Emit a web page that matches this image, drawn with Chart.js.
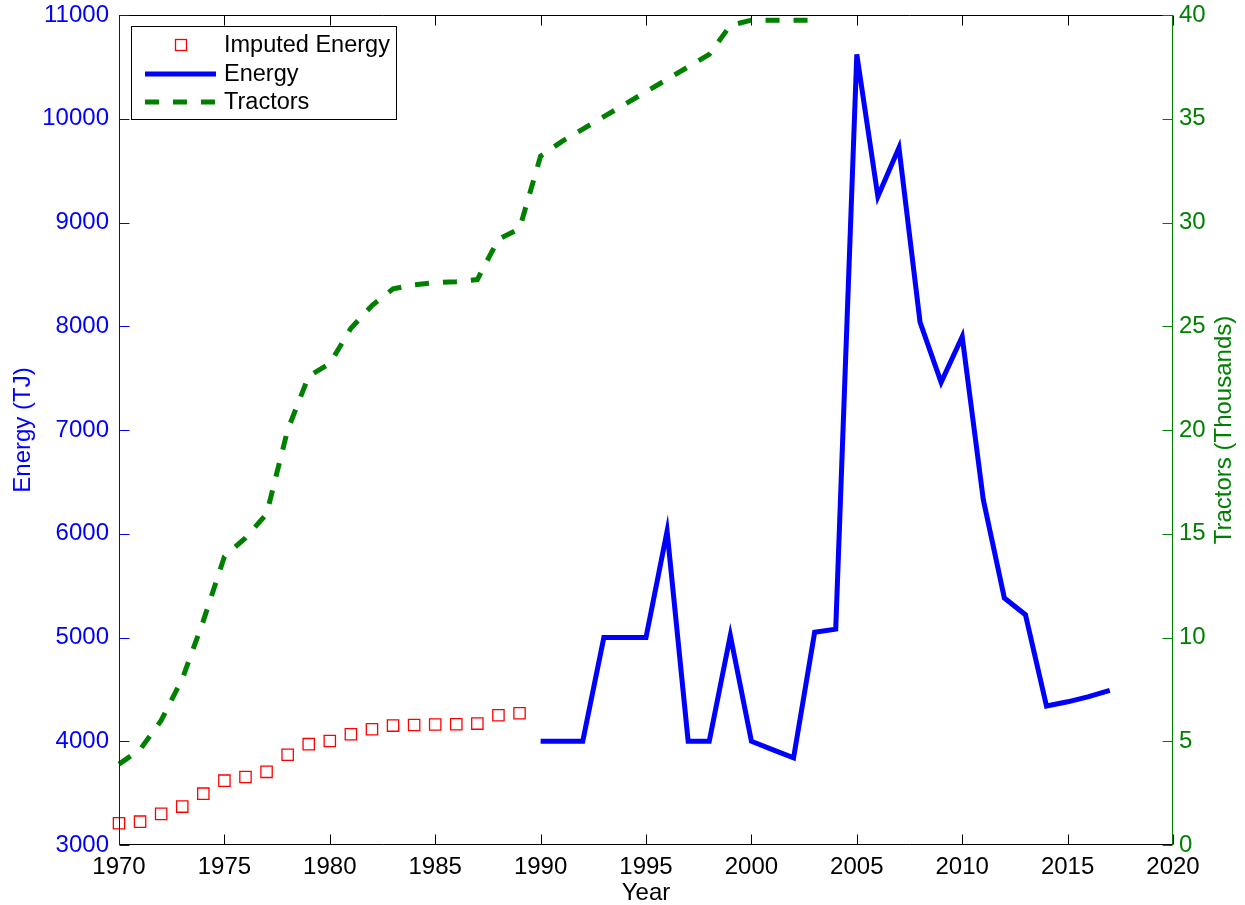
<!DOCTYPE html>
<html>
<head>
<meta charset="utf-8">
<title>Energy and Tractors</title>
<script src="https://cdn.jsdelivr.net/npm/chart.js@4/dist/chart.umd.min.js"></script>
<style>
    html, body { margin: 0; padding: 0; background: #fff; }
    #chartBox { width: 1245px; height: 905px; }
</style>
</head>
<body>
<div id="chartBox"><canvas id="myChart" width="1245" height="905"></canvas></div>
<script>
// energy imputed before records start (TJ)
const imputedYears = [1970, 1971, 1972, 1973, 1974, 1975, 1976, 1977, 1978, 1979,
                      1980, 1981, 1982, 1983, 1984, 1985, 1986, 1987, 1988, 1989];
const imputedEnergy = [3210, 3225, 3300, 3370, 3495, 3620, 3655, 3705, 3870, 3972,
                       4003, 4067, 4116, 4151, 4157, 4161, 4164, 4170, 4251, 4270];

// recorded energy (TJ)
const energyYears = [1990, 1991, 1992, 1993, 1994, 1995, 1996, 1997, 1998, 1999,
                     2000, 2001, 2002, 2003, 2004, 2005, 2006, 2007, 2008, 2009,
                     2010, 2011, 2012, 2013, 2014, 2015, 2016, 2017];
const energy = [4000, 4000, 4000, 5000, 5000, 5000, 6025, 4000, 4000, 5020,
                4000, 3920, 3840, 5050, 5080, 10620, 9250, 9720, 8040, 7460,
                7900, 6330, 5380, 5220, 4340, 4380, 4430, 4490];

// tractors in use (thousands)
const tractorYears = [1970, 1971, 1972, 1973, 1974, 1975, 1976, 1977, 1978, 1979,
                      1980, 1981, 1982, 1983, 1984, 1985, 1986, 1987, 1988, 1989,
                      1990, 1991, 1992, 1993, 1994, 1995, 1996, 1997, 1998, 1999,
                      2000, 2001, 2002, 2003];
const tractors = [3.9, 4.6, 6.0, 8.0, 10.8, 13.9, 14.8, 15.95, 20.0, 22.6,
                  23.2, 24.9, 26.0, 26.8, 27.0, 27.1, 27.15, 27.25, 29.2, 29.7,
                  33.2, 33.9, 34.5, 35.1, 35.7, 36.3, 36.9, 37.5, 38.1, 39.5,
                  39.75, 39.75, 39.75, 39.75];

// tick labels
const yearTicks = [1970, 1975, 1980, 1985, 1990, 1995, 2000, 2005, 2010, 2015, 2020];
const energyTicks = [3000, 4000, 5000, 6000, 7000, 8000, 9000, 10000, 11000];
const tractorTicks = [0, 5, 10, 15, 20, 25, 30, 35, 40];

const FONT = "'Liberation Sans', Arial, Helvetica, sans-serif";
const BLUE = '#0000ff';
const GREEN = '#008000';
const RED = '#ff0000';

function points(xs, ys) {
    return xs.map((x, i) => ({ x: x, y: ys[i] }));
}

function fixedTicks(list) {
    return (scale) => { scale.ticks = list.map(v => ({ value: v })); };
}

// fixed box sizes, labels are allowed to hang over the plot edges
function fitWidth(w) {
    return (s) => { s.width = w; s.paddingTop = 0; s.paddingBottom = 0; };
}
function fitHeight(h) {
    return (s) => { s.height = h; s.paddingLeft = 0; s.paddingRight = 0; };
}

// box, inward tick marks, legend and right hand title
const axesFrame = {
    id: 'axesFrame',
    afterDraw(chart) {
        const ctx = chart.ctx;
        const a = chart.chartArea;
        const sx = chart.scales.x, yl = chart.scales.yEnergy, yr = chart.scales.yTractors;
        const L = Math.round(a.left) + 0.5, R = Math.round(a.right) - 0.5;
        const T = Math.round(a.top) + 0.5, B = Math.round(a.bottom) - 0.5;
        const tick = 10;

        ctx.save();
        ctx.lineWidth = 1;
        ctx.setLineDash([]);

        // top and bottom
        ctx.strokeStyle = '#000';
        ctx.beginPath();
        ctx.moveTo(L, T); ctx.lineTo(R, T);
        ctx.moveTo(L, B); ctx.lineTo(R, B);
        sx.ticks.forEach(t => {
            const px = Math.round(sx.getPixelForValue(t.value)) + 0.5;
            ctx.moveTo(px, B); ctx.lineTo(px, B - tick);
            ctx.moveTo(px, T); ctx.lineTo(px, T + tick);
        });
        ctx.stroke();

        // left axis
        ctx.strokeStyle = BLUE;
        ctx.beginPath();
        ctx.moveTo(L, T - 0.5); ctx.lineTo(L, B + 0.5);
        yl.ticks.forEach(t => {
            const py = Math.round(yl.getPixelForValue(t.value)) + 0.5;
            ctx.moveTo(L, py); ctx.lineTo(L + tick, py);
        });
        ctx.stroke();

        // right axis
        ctx.strokeStyle = GREEN;
        ctx.beginPath();
        ctx.moveTo(R, T - 0.5); ctx.lineTo(R, B + 0.5);
        yr.ticks.forEach(t => {
            const py = Math.round(yr.getPixelForValue(t.value)) + 0.5;
            ctx.moveTo(R, py); ctx.lineTo(R - tick, py);
        });
        ctx.stroke();

        // right title, reading upwards
        ctx.fillStyle = GREEN;
        ctx.font = '24px ' + FONT;
        ctx.textAlign = 'center';
        ctx.textBaseline = 'middle';
        ctx.translate(1224, (a.top + a.bottom) / 2);
        ctx.rotate(-Math.PI / 2);
        ctx.fillText('Tractors (Thousands)', 0, 0);
        ctx.setTransform(1, 0, 0, 1, 0, 0);

        // legend
        const lx = 131.5, ly = 26.5, lw = 265, lh = 93;
        ctx.fillStyle = '#fff';
        ctx.fillRect(lx, ly, lw, lh);
        ctx.strokeStyle = '#000';
        ctx.strokeRect(lx, ly, lw, lh);

        const ds = chart.data.datasets;
        const rows = [45, 74, 102];
        const x0 = 145, x1 = 216;

        ctx.strokeStyle = ds[0].pointBorderColor;
        ctx.lineWidth = ds[0].pointBorderWidth;
        ctx.strokeRect(175.5, rows[0] - 5.5, 11, 11);

        ctx.lineWidth = ds[1].borderWidth;
        ctx.strokeStyle = ds[1].borderColor;
        ctx.beginPath();
        ctx.moveTo(x0, rows[1]); ctx.lineTo(x1, rows[1]);
        ctx.stroke();

        ctx.strokeStyle = ds[2].borderColor;
        ctx.setLineDash(ds[2].borderDash);
        ctx.beginPath();
        ctx.moveTo(x0, rows[2]); ctx.lineTo(x1, rows[2]);
        ctx.stroke();
        ctx.setLineDash([]);

        ctx.fillStyle = '#000';
        ctx.font = '23.5px ' + FONT;
        ctx.textAlign = 'left';
        ctx.textBaseline = 'middle';
        ds.forEach((d, i) => ctx.fillText(d.label, 224, rows[i] + 1));
        ctx.restore();
    }
};

const ctx = document.getElementById('myChart').getContext('2d');
const chart = new Chart(ctx, {
    type: 'line',
    data: {
        datasets: [{
            label: 'Imputed Energy',
            data: points(imputedYears, imputedEnergy),
            yAxisID: 'yEnergy',
            showLine: false,
            pointStyle: 'rect',
            pointRadius: 8,
            pointBorderWidth: 1.3,
            pointBorderColor: RED,
            pointBackgroundColor: 'rgba(0,0,0,0)',
            clip: false
        }, {
            label: 'Energy',
            data: points(energyYears, energy),
            yAxisID: 'yEnergy',
            borderColor: BLUE,
            borderWidth: 5,
            pointRadius: 0,
            tension: 0,
            clip: false
        }, {
            label: 'Tractors',
            data: points(tractorYears, tractors),
            yAxisID: 'yTractors',
            borderColor: GREEN,
            borderWidth: 5,
            borderDash: [14, 14],
            pointRadius: 0,
            tension: 0,
            clip: false
        }]
    },
    options: {
        responsive: false,
        animation: false,
        layout: { padding: { top: 15, left: 0, right: 0, bottom: 0 } },
        plugins: {
            legend: { display: false },
            tooltip: { enabled: false }
        },
        scales: {
            x: {
                type: 'linear',
                position: 'bottom',
                min: 1970,
                max: 2020,
                grid: { display: false, drawTicks: false },
                border: { display: false },
                afterBuildTicks: fixedTicks(yearTicks),
                afterFit: fitHeight(60),
                ticks: {
                    color: '#000',
                    font: { family: FONT, size: 24 },
                    padding: 8,
                    maxRotation: 0,
                    autoSkip: false,
                    callback: (v) => String(v)
                },
                title: {
                    display: true,
                    text: 'Year',
                    color: '#000',
                    font: { family: FONT, size: 24, lineHeight: 1 },
                    padding: { top: 0, bottom: 0 }
                }
            },
            yEnergy: {
                type: 'linear',
                position: 'left',
                min: 3000,
                max: 11000,
                grid: { display: false, drawTicks: false },
                border: { display: false },
                afterBuildTicks: fixedTicks(energyTicks),
                afterFit: fitWidth(119),
                ticks: {
                    color: BLUE,
                    font: { family: FONT, size: 24 },
                    padding: 10,
                    callback: (v) => String(v)
                },
                title: {
                    display: true,
                    text: 'Energy (TJ)',
                    color: BLUE,
                    font: { family: FONT, size: 24, lineHeight: 1 },
                    padding: { top: 11, bottom: 0 }
                }
            },
            yTractors: {
                type: 'linear',
                position: 'right',
                min: 0,
                max: 40,
                grid: { display: false, drawTicks: false },
                border: { display: false },
                afterBuildTicks: fixedTicks(tractorTicks),
                afterFit: fitWidth(72),
                ticks: {
                    color: GREEN,
                    font: { family: FONT, size: 24 },
                    padding: 6,
                    callback: (v) => String(v)
                }
            }
        }
    },
    plugins: [axesFrame]
});
</script>
</body>
</html>
